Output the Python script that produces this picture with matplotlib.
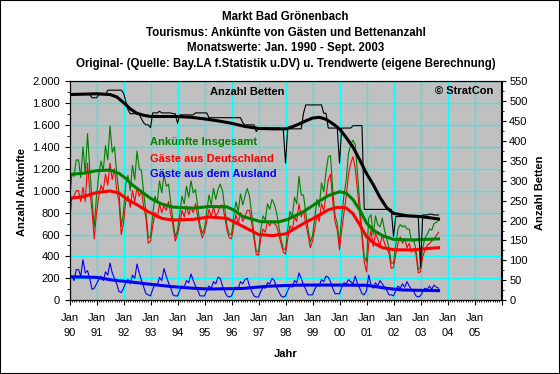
import numpy as np
import matplotlib
matplotlib.use("Agg")
import matplotlib.pyplot as plt
from matplotlib.ticker import MultipleLocator, FixedLocator, FuncFormatter
from matplotlib.patches import Rectangle

""" data: monthly values Jan 1990 - Sept 2003 (read off the chart) """

# Gäste aus Deutschland (left axis)
gaeste_de = [
    690, 930, 950, 1000, 1000, 900, 1030, 900, 1250, 1000, 820, 560,   # 1990
    800, 950, 1050, 1000, 1150, 1050, 1250, 1100, 1200, 1000, 900, 600,  # 1991
    700, 900, 950, 850, 1000, 900, 1030, 950, 1000, 850, 750, 520,     # 1992
    540, 680, 800, 750, 880, 800, 860, 820, 900, 780, 680, 540,        # 1993
    600, 700, 820, 760, 860, 780, 850, 800, 880, 760, 650, 570,        # 1994
    620, 720, 830, 760, 850, 770, 800, 860, 870, 760, 640, 570,        # 1995
    560, 680, 780, 700, 800, 720, 760, 820, 820, 700, 560, 420,        # 1996
    410, 560, 650, 620, 720, 680, 720, 700, 680, 600, 520, 440,        # 1997
    420, 560, 680, 640, 760, 720, 880, 760, 820, 700, 600, 480,        # 1998
    540, 650, 780, 720, 880, 820, 950, 1100, 1150, 900, 720, 640,      # 1999
    460, 650, 800, 950, 1150, 1250, 1310, 1200, 1000, 780, 560, 350,   # 2000
    260, 520, 640, 490, 610, 560, 490, 600, 520, 470, 430, 290,        # 2001
    300, 420, 520, 580, 520, 560, 480, 520, 440, 470, 420, 250,        # 2002
    260, 400, 460, 500, 520, 540, 560, 590, 620,                       # 2003
]

# Gäste aus dem Ausland (left axis)
gaeste_aus = [
    190, 220, 180, 280, 280, 220, 370, 250, 270, 200, 100, 110,  # 1990
    150, 190, 220, 180, 260, 230, 340, 250, 200, 150, 80, 70,    # 1991
    110, 160, 190, 150, 230, 200, 330, 250, 180, 120, 60, 50,    # 1992
    40, 100, 150, 140, 210, 180, 290, 220, 160, 110, 50, 40,     # 1993
    40, 90, 130, 120, 180, 160, 240, 180, 130, 90, 40, 40,       # 1994
    40, 90, 130, 110, 170, 150, 210, 200, 130, 80, 40, 30,       # 1995
    40, 90, 120, 110, 170, 150, 190, 200, 130, 80, 40, 30,       # 1996
    30, 80, 120, 110, 160, 150, 200, 180, 120, 80, 40, 30,       # 1997
    40, 90, 130, 120, 180, 160, 250, 200, 140, 100, 50, 50,      # 1998
    50, 100, 140, 130, 190, 170, 220, 210, 170, 110, 60, 60,     # 1999
    60, 120, 160, 150, 190, 170, 150, 220, 150, 110, 60, 50,     # 2000
    90, 230, 140, 110, 160, 130, 180, 150, 120, 90, 50, 50,      # 2001
    40, 90, 130, 110, 150, 120, 170, 130, 100, 80, 40, 30,       # 2002
    40, 80, 110, 100, 130, 100, 140, 120, 110,                   # 2003
]

# Anzahl Betten (right axis)
betten = [
    516, 516, 516, 516, 516, 516, 516, 516, 516, 516, 508, 508,  # 1990
    508, 516, 516, 516, 516, 527, 527, 527, 527, 527, 527, 527,  # 1991
    520, 500, 478, 468, 468, 468, 468, 466, 455, 445, 440, 440,  # 1992
    433, 470, 470, 470, 474, 470, 470, 470, 470, 470, 468, 468,  # 1993
    444, 465, 465, 465, 465, 465, 465, 465, 470, 470, 470, 470,  # 1994
    470, 470, 458, 458, 458, 458, 458, 458, 458, 458, 458, 458,  # 1995
    458, 458, 458, 458, 458, 445, 440, 440, 440, 440, 440, 423,  # 1996
    432, 432, 432, 432, 432, 432, 432, 432, 432, 432, 430, 430,  # 1997
    344, 430, 430, 430, 430, 430, 430, 430, 469, 490, 490, 490,  # 1998
    490, 490, 490, 490, 490, 469, 469, 432, 432, 432, 432, 432,  # 1999
    344, 432, 432, 432, 432, 432, 438, 438, 438, 438, 438, 228,  # 2000
    228, 228, 228, 228, 228, 228, 228, 228, 228, 228, 228, 228,  # 2001
    160, 210, 210, 210, 210, 210, 210, 210, 210, 210, 210, 210,  # 2002
    84, 214, 214, 214, 216, 216, 214, 214, 214,                  # 2003
]

# trend values (eigene Berechnung), month index since Jan 1990
trend_ges_m = [0, 6, 12, 18, 22, 25, 28, 32, 36, 41, 46, 55, 62, 70, 73, 77, 85, 93,
               97, 104, 110, 115, 120, 123, 126, 129, 132, 135, 139, 144, 152, 164]
trend_ges = [1149, 1158, 1182, 1188, 1158, 1112, 1051, 990, 930, 878, 850, 840, 855, 852,
             823, 765, 717, 715, 738, 808, 890, 955, 990, 978, 918, 825, 705, 640, 590,
             556, 550, 560]

trend_de_m = [0, 6, 12, 18, 22, 26, 30, 35, 41, 46, 55, 62, 70, 77, 84, 90, 96, 104,
              110, 115, 119, 123, 126, 129, 132, 135, 139, 144, 152, 164]
trend_de = [930, 945, 982, 997, 978, 915, 872, 808, 747, 732, 738, 760, 747, 675, 600,
            590, 605, 700, 765, 825, 848, 842, 790, 690, 580, 525, 480, 462, 459, 480]

trend_aus_m = [0, 12, 19, 26, 35, 46, 55, 62, 77, 88, 96, 104, 119, 132, 141, 148, 164]
trend_aus = [215, 209, 185, 170, 148, 124, 110, 103, 108, 128, 135, 139, 139, 137, 109,
             94, 88]

trend_bet_m = [0, 12, 18, 21, 24, 27, 30, 33, 36, 42, 48, 54, 60, 66, 72, 78, 84, 90, 96,
               99, 102, 105, 108, 111, 114, 117, 120, 123, 126, 129, 132, 135, 138, 141,
               144, 150, 156, 164]
trend_bet = [516, 518, 516, 510, 496, 480, 469, 464, 461, 461, 461, 459, 455, 450, 444,
             436, 431, 430, 430, 435, 442, 450, 457, 459, 454, 443, 430, 408, 384, 352,
             318, 290, 258, 232, 218, 212, 210, 204]

year_labels = ["90", "91", "92", "93", "94", "95", "96", "97", "98", "99",
               "00", "01", "02", "03", "04", "05"]

""" plot """

plt.rcParams['font.family'] = ['Liberation Sans', 'DejaVu Sans']

de = np.array(gaeste_de)
aus = np.array(gaeste_aus)
ges = de + aus            # Ankünfte insgesamt = Deutschland + Ausland
months = np.arange(len(de))

fig = plt.figure(figsize=(5.6, 3.74), dpi=100)
ax = fig.add_axes([69.5/560, 1 - 300.3/374, 432/560, 219.3/374])
ax.set_facecolor('#C0C0C0')
ax2 = ax.twinx()

ax.plot(months, ges, color='#008000', lw=0.8)
ax.plot(months, de, color='#FF0000', lw=0.8)
ax.plot(months, aus, color='#0000FF', lw=0.8)
ax.plot(trend_ges_m, trend_ges, color='#008000', lw=2.2)
ax.plot(trend_de_m, trend_de, color='#FF0000', lw=2.2)
ax.plot(trend_aus_m, trend_aus, color='#0000FF', lw=2.2)
ax2.plot(months, betten, color='black', lw=0.8)
ax2.plot(trend_bet_m, trend_bet, color='black', lw=2.2)

ax.set_xlim(0, 192)
ax.set_ylim(0, 2000)
ax2.set_ylim(0, 550)

ax.xaxis.set_major_locator(FixedLocator(range(0, 193, 12)))
ax.set_xticklabels(["Jan\n" + y for y in year_labels] + [""], linespacing=1.55)
ax.xaxis.set_minor_locator(MultipleLocator(1))
ax.yaxis.set_major_locator(MultipleLocator(200))
ax.yaxis.set_minor_locator(MultipleLocator(100))
ax.yaxis.set_major_formatter(FuncFormatter(lambda v, p: f"{int(v):,}".replace(",", ".")))
ax2.yaxis.set_major_locator(MultipleLocator(50))
ax2.yaxis.set_minor_locator(MultipleLocator(25))

ax.grid(True, which='major', color='#00FFFF', lw=0.9)
ax.set_axisbelow(True)

ax.tick_params(axis='both', which='major', labelsize=8, length=3.5, width=0.8, direction='out')
ax.tick_params(axis='x', which='major', pad=6)
ax.tick_params(axis='both', which='minor', length=2, width=0.6, direction='out')
ax.tick_params(axis='x', which='minor', length=1.2)
ax2.tick_params(axis='y', which='major', labelsize=8, length=3.5, width=0.8, pad=2)
ax2.tick_params(axis='y', which='minor', length=2, width=0.6)
for a in (ax, ax2):
    for s in a.spines.values():
        s.set_color('black')
        s.set_linewidth(0.8)

# texts in plot area
ax.text(0.186, 0.723, "Ankünfte Insgesamt", transform=ax.transAxes, color='#008000',
        fontsize=8, fontweight='bold', va='center')
ax.text(0.186, 0.643, "Gäste aus Deutschland", transform=ax.transAxes, color='#FF0000',
        fontsize=8, fontweight='bold', va='center')
ax.text(0.186, 0.576, "Gäste aus dem Ausland", transform=ax.transAxes, color='#0000FF',
        fontsize=8, fontweight='bold', va='center')
ax.text(0.325, 0.951, "Anzahl Betten", transform=ax.transAxes, color='black',
        fontsize=8, fontweight='bold', va='center')
ax.text(0.846, 0.954, "© StratCon", transform=ax.transAxes, color='black',
        fontsize=8, fontweight='bold', va='center')

# titles and axis labels
titles = ["Markt Bad Grönenbach",
          "Tourismus: Ankünfte von Gästen und Bettenanzahl",
          "Monatswerte: Jan. 1990 - Sept. 2003",
          "Original- (Quelle: Bay.LA f.Statistik u.DV) u. Trendwerte (eigene Berechnung)"]
for i, t in enumerate(titles):
    fig.text(285.5/560, 1 - (17 + 15.5*i)/374, t, ha='center', va='center',
             fontsize=8.3, fontweight='bold')
fig.text(21.7/560, 1 - 191.7/374, "Anzahl Ankünfte", rotation=90, ha='center',
         va='center', fontsize=8, fontweight='bold')
fig.text(540/560, 1 - 192.5/374, "Anzahl Betten", rotation=90, ha='center',
         va='center', fontsize=8, fontweight='bold')
fig.text(285.5/560, 1 - 354/374, "Jahr", ha='center', va='center',
         fontsize=8, fontweight='bold')

fig.add_artist(Rectangle((0, 0), 1, 1, transform=fig.transFigure, fill=False,
                         edgecolor='black', lw=1.5))

fig.savefig("out.png", dpi=100)
